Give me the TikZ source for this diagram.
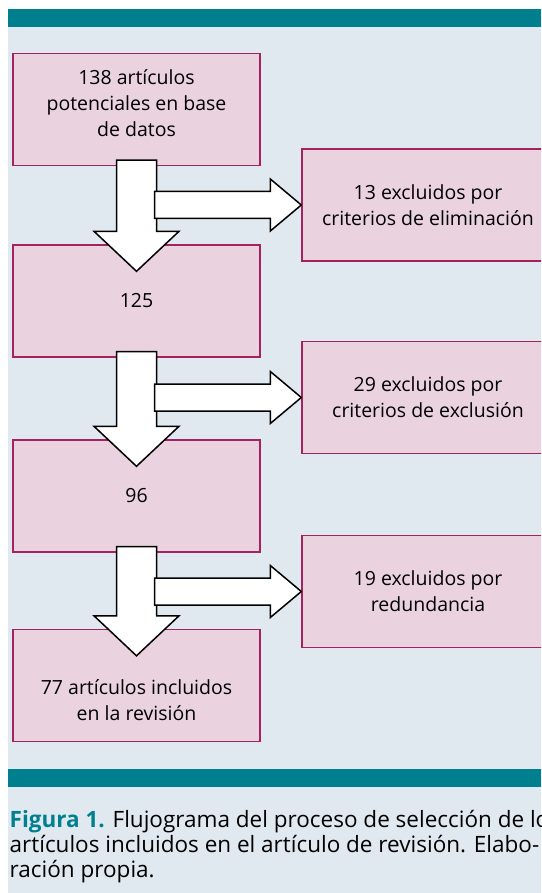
\documentclass[tikz,border=0pt]{standalone}
\usepackage{fontspec}
\setmainfont{Open Sans}
\usepackage{xcolor}
\usepackage{tikz}
\usetikzlibrary{calc}
\definecolor{mybg}{HTML}{E1E9F0}
\definecolor{myteal}{HTML}{00808F}
\definecolor{mypink}{HTML}{EAD3DE}
\definecolor{mymagenta}{HTML}{A3225F}
\tikzset{
	stage/.style={draw=mymagenta, line width=1.4pt, fill=mypink, minimum width=247pt, minimum height=112pt, align=center, inner sep=0pt, font=\fontsize{19.5}{26}\selectfont},
	stagetxt/.style={align=center, inner sep=0pt, font=\fontsize{19.5}{26}\selectfont},
	blk/.style={draw=black, fill=white, line width=1.5pt, line join=miter},
	captxt/.style={anchor=base west, inner sep=0pt, font=\fontsize{22.5}{25}\selectfont},
}
\newcommand{\downblock}[2]{%
	\draw[blk] ($(#1.south)+(-20,-6)$) -- ($(#1.south)+(20,-6)$) -- ($(#2.north)+(20,-13)$) -- ($(#2.north)+(42.5,-13)$) -- ($(#2.north)+(0,27)$) -- ($(#2.north)+(-42.5,-13)$) -- ($(#2.north)+(-20,-13)$) -- cycle;}
\newcommand{\rightblock}[2]{%
	\draw[blk] ($(#1.south |- #2.west)+(18,-13.5)$) -- ($(#2.west)+(-31,-13.5)$) -- ($(#2.west)+(-31,-26)$) -- (#2.west) -- ($(#2.west)+(-31,26)$) -- ($(#2.west)+(-31,13.5)$) -- ($(#1.south |- #2.west)+(18,13.5)$) -- cycle;}
\begin{document}
\begin{tikzpicture}[x=1pt, y=-1pt]
		\useasboundingbox (0,0) rectangle (541,893);
		\clip (0,0) rectangle (541,893);
		\fill[white] (0,0) rectangle (541,893);
		\fill[mybg] (8,9) rectangle (541,893);
		\fill[myteal] (8,9) rectangle (541,27);
		\fill[myteal] (8,769) rectangle (541,787);

		\node[stage] (b1) at (136.5,109.5) {};
		\node[stagetxt] (b1txt) at (136.5,103) {138 artículos\\potenciales en base\\de datos};
		\node[stage] (b2) at (136.5,301) {125};
		\node[stage] (b3) at (136.5,496) {96};
		\node[stage] (b4) at (136.5,685.5) {};
		\node[stagetxt] (b4txt) at (136.5,700) {77 artículos incluidos\\en la revisión};
		\node[stage, minimum width=252pt] (r1) at (428,205) {13 excluidos por\\criterios de eliminación};
		\node[stage, minimum width=252pt] (r2) at (428,397.5) {29 excluidos por\\criterios de exclusión};
		\node[stage, minimum width=252pt] (r3) at (428,591.5) {19 excluidos por\\redundancia};

		\downblock{b1}{b2}
		\rightblock{b1}{r1}
		\downblock{b2}{b3}
		\rightblock{b2}{r2}
		\downblock{b3}{b4}
		\rightblock{b3}{r3}

		\node[captxt] (cap1) at (9.5,827) {\textcolor{myteal}{\bfseries Figura 1.} Flujograma del proceso de selección de los};
		\node[captxt] (cap2) at (9.5,852) {artículos incluidos en el artículo de revisión. Elabo-};
		\node[captxt] (cap3) at (9.5,877) {ración propia.};
	\end{tikzpicture}
\end{document}
